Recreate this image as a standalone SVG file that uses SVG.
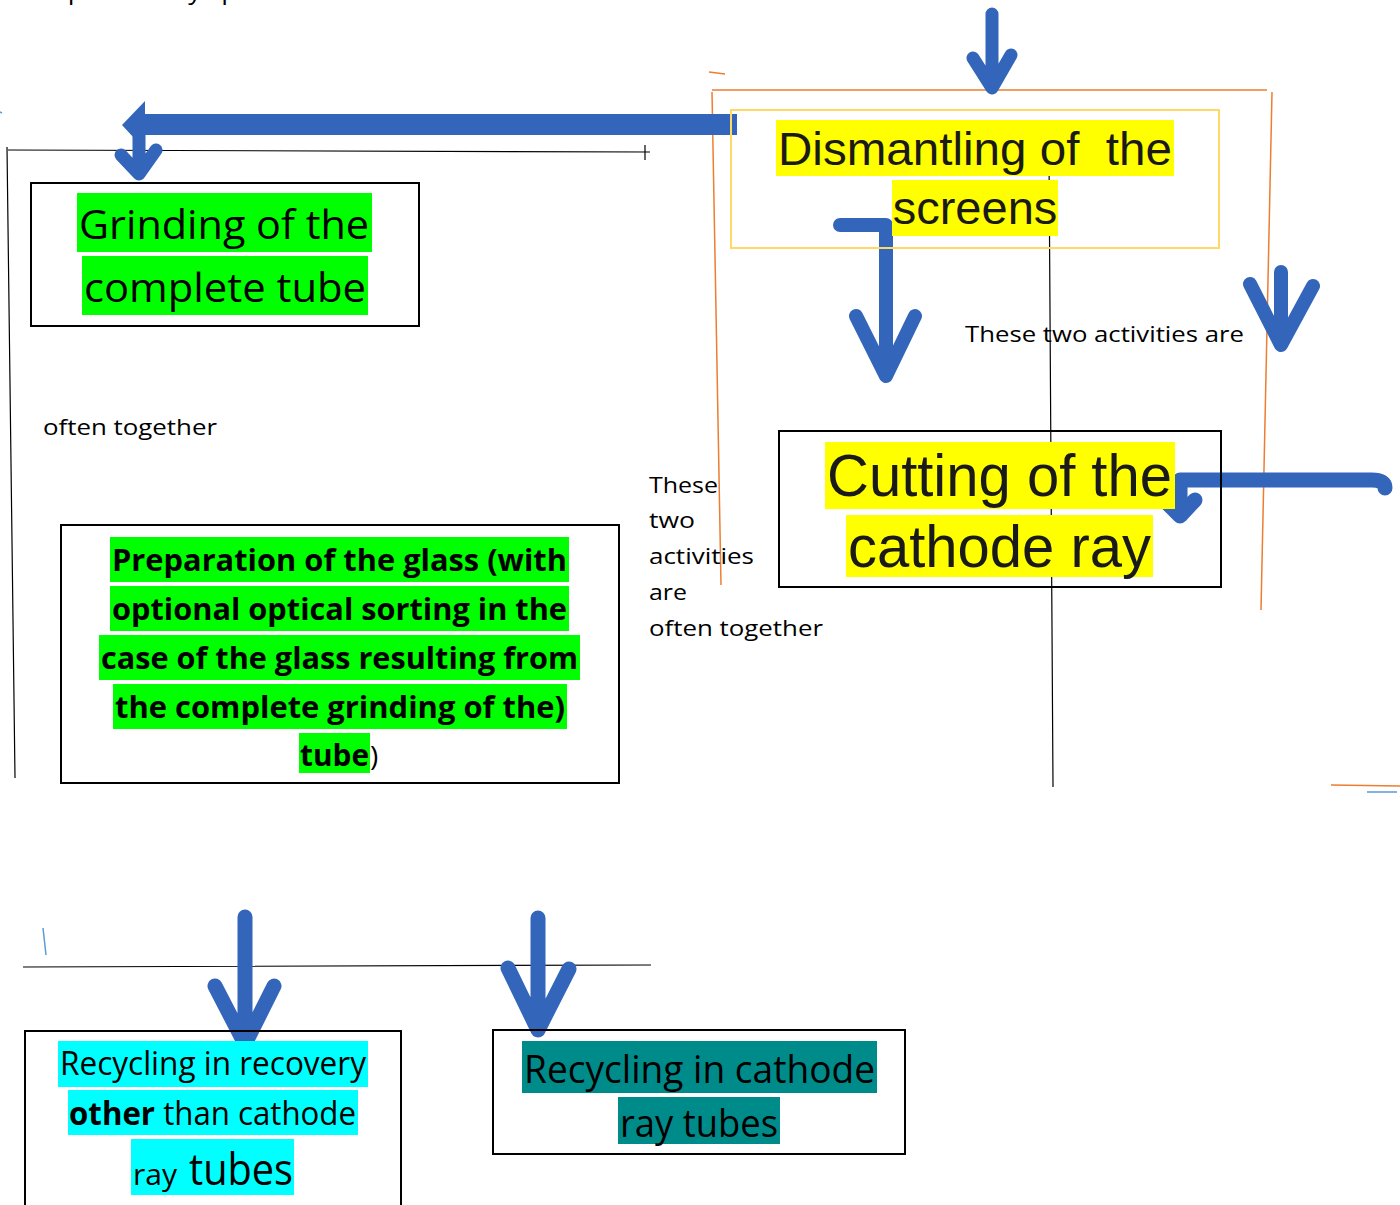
<svg xmlns="http://www.w3.org/2000/svg" width="1400" height="1205" viewBox="0 0 1400 1205">
<style>
.box{fill:none;stroke:#000;stroke-width:2}
.cal{font-family:"Open Sans","Liberation Sans",sans-serif;fill:#000}
.ar{font-family:"Liberation Sans",Arial,sans-serif;fill:#1a1a1a}
.arr{fill:none;stroke:#3366BB;stroke-linecap:round;stroke-linejoin:round}
.thin{fill:none;stroke:#000;stroke-width:1.2}
.or{fill:none;stroke:#ED7D31;stroke-width:1.5}
.g{fill:#00FF00}.y{fill:#FFFF00}.c{fill:#00FFFF}.t{fill:#008B8B}
</style>
<rect width="1400" height="1205" fill="#fff"/>
<text class="cal" x="40" y="-1" font-size="24" textLength="240" lengthAdjust="spacingAndGlyphs">separated by space</text>
<g id="guides">
<path class="or" d="M712,90 L1267,90 M709,72 L725,74 M712,92 L721,585 M1272,92 L1261,610 M1331,785 L1400,786"/>
<path d="M1367,792 L1397,792 M43,928 L46,955 M0,112 L2,113" stroke="#5B9BD5" stroke-width="1.5" fill="none"/>
<path class="thin" d="M1049,153 L1053,787 M8,150 L650,152 M645,145 L645,160 M7,147 L15,778 M23,967 L651,965"/>
</g>
<g id="connectors">
<path class="arr" stroke-width="13" d="M992,14 L992,86 M973,58 L992,88 L1011,55"/>
<path d="M737,114 L737,135 L145,135 L145,150 L122,125 L145,101 L145,114 Z" fill="#3366BB"/>
<path class="arr" stroke-width="13" d="M139,132 L139,170 M121,155 L139,174 L156,150"/>
<path class="arr" stroke-width="14" d="M840,225 L886,225 L886,372 M856,316 L886,376 L915,316"/>
<path class="arr" stroke-width="14" d="M1281,272 L1281,340 M1250,284 L1281,345 L1313,286"/>
<path class="arr" stroke-width="15" d="M1385,488 Q1385,480 1372,480 L1180,480 L1180,512 M1162,498 L1180,516 L1195,500"/>
<path class="arr" stroke-width="15" d="M245,917 L245,1038 M215,986 L245,1044 L274,986"/>
<path class="arr" stroke-width="15" d="M538,918 L538,1026 M508,968 L538,1030 L569,969"/>
</g>
<g id="node-dismantling">
<rect x="731" y="110" width="488" height="138" fill="none" stroke="#FFD966" stroke-width="2"/>
<rect class="y" x="776" y="120" width="398" height="56"/>
<rect class="y" x="892" y="180" width="166" height="56"/>
<text class="ar" x="975" y="165" font-size="47" text-anchor="middle" textLength="394" lengthAdjust="spacingAndGlyphs" xml:space="preserve">Dismantling of  the</text>
<text class="ar" x="975" y="224" font-size="47" text-anchor="middle">screens</text>
</g>
<g id="node-grinding">
<rect class="box" x="31" y="183" width="388" height="143"/>
<rect class="g" x="77" y="193" width="295" height="59"/>
<rect class="g" x="82" y="256" width="286" height="59"/>
<text class="cal" x="79" y="239" font-size="40" textLength="290" lengthAdjust="spacingAndGlyphs">Grinding of the</text>
<text class="cal" x="84" y="302" font-size="40" textLength="282" lengthAdjust="spacingAndGlyphs">complete tube</text>
</g>
<g id="label-often">
<text class="cal" x="43" y="435" font-size="22" textLength="174" lengthAdjust="spacingAndGlyphs">often together</text>
</g>
<g id="node-preparation">
<rect class="box" x="61" y="525" width="558" height="258"/>
<rect class="g" x="110" y="537" width="459" height="45"/>
<rect class="g" x="110" y="586" width="459" height="45"/>
<rect class="g" x="99" y="635" width="481" height="45"/>
<rect class="g" x="113" y="684" width="454" height="45"/>
<rect class="g" x="299" y="733" width="71" height="40"/>
<g class="cal" font-size="30" font-weight="bold">
<text x="112" y="571" textLength="455" lengthAdjust="spacingAndGlyphs">Preparation of the glass (with</text>
<text x="112" y="620" textLength="455" lengthAdjust="spacingAndGlyphs">optional optical sorting in the</text>
<text x="101" y="669" textLength="477" lengthAdjust="spacingAndGlyphs">case of the glass resulting from</text>
<text x="115" y="718" textLength="450" lengthAdjust="spacingAndGlyphs">the complete grinding of the)</text>
<text x="300" y="766" textLength="69" lengthAdjust="spacingAndGlyphs">tube</text>
</g>
<text class="cal" x="370" y="766" font-size="28">)</text>
</g>
<g id="label-these-right">
<text class="cal" x="965" y="342" font-size="22" textLength="279" lengthAdjust="spacingAndGlyphs">These two activities are</text>
</g>
<g id="label-these-mid" class="cal" font-size="22">
<text x="649" y="493" textLength="69" lengthAdjust="spacingAndGlyphs">These</text>
<text x="649" y="528" textLength="46" lengthAdjust="spacingAndGlyphs">two</text>
<text x="649" y="564" textLength="105" lengthAdjust="spacingAndGlyphs">activities</text>
<text x="649" y="600" textLength="38" lengthAdjust="spacingAndGlyphs">are</text>
<text x="649" y="636" textLength="174" lengthAdjust="spacingAndGlyphs">often together</text>
</g>
<g id="node-cutting">
<rect class="box" x="779" y="431" width="442" height="156"/>
<rect class="y" x="825" y="442" width="350" height="67"/>
<rect class="y" x="846" y="515" width="307" height="62"/>
<text class="ar" x="827" y="496" font-size="59" textLength="345" lengthAdjust="spacingAndGlyphs">Cutting of the</text>
<text class="ar" x="848" y="567" font-size="59" textLength="303" lengthAdjust="spacingAndGlyphs">cathode ray</text>
</g>
<g id="node-recycling-other">
<rect class="box" x="25" y="1031" width="376" height="190"/>
<rect class="c" x="58" y="1041" width="310" height="46"/>
<rect class="c" x="68" y="1090" width="290" height="45"/>
<rect class="c" x="131" y="1139" width="163" height="56"/>
<text class="cal" x="60" y="1075" font-size="32" textLength="306" lengthAdjust="spacingAndGlyphs">Recycling in recovery</text>
<text class="cal" x="69" y="1125" font-size="32" textLength="287" lengthAdjust="spacingAndGlyphs"><tspan font-weight="bold">other</tspan> than cathode</text>
<text class="cal" x="133" y="1185" font-size="30" textLength="44" lengthAdjust="spacingAndGlyphs">ray</text>
<text class="cal" x="189" y="1185" font-size="43" textLength="104" lengthAdjust="spacingAndGlyphs">tubes</text>
</g>
<g id="node-recycling-crt">
<rect class="box" x="493" y="1030" width="412" height="124"/>
<rect class="t" x="522" y="1041" width="355" height="52"/>
<rect class="t" x="618" y="1097" width="162" height="47"/>
<text class="cal" x="524" y="1083" font-size="38" textLength="351" lengthAdjust="spacingAndGlyphs">Recycling in cathode</text>
<text class="cal" x="620" y="1137" font-size="38" textLength="158" lengthAdjust="spacingAndGlyphs">ray tubes</text>
</g>
</svg>
